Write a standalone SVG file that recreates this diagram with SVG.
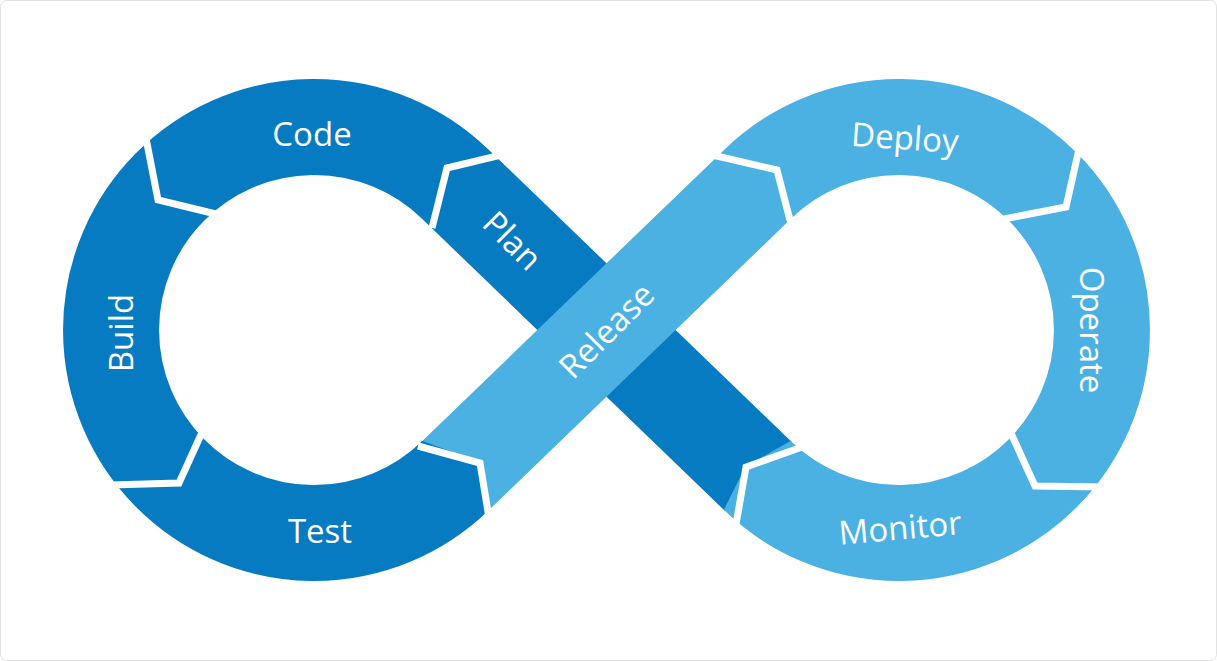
<svg xmlns="http://www.w3.org/2000/svg" width="1217" height="661" viewBox="0 0 1217 661">
<style>
.dark{fill:none;stroke:#077BC1;stroke-width:96}
.light{fill:none;stroke:#4BB1E3;stroke-width:96}
.sep{fill:none;stroke:#fff;stroke-width:7;stroke-linejoin:miter}
.lbl{font-family:"Open Sans","Liberation Sans",sans-serif;font-size:33px;fill:#fff;text-anchor:middle;dominant-baseline:central}
</style>
<rect x="0.5" y="0.5" width="1216" height="660" rx="6" fill="#fff" stroke="#e2e2e2"/>
<g id="loop-left"><path class="dark" d="M757.9 476 L455.1 184 A203 203 0 1 0 455.1 476"/></g>
<g id="loop-right"><path class="light" d="M455.1 476 L757.9 184 A203 203 0 1 1 757.9 476"/></g>
<polygon fill="#077BC1" stroke="#077BC1" stroke-width="1.5" points="421.7,441.5 480,463 488.5,510.5"/>
<polygon fill="#4BB1E3" stroke="#4BB1E3" stroke-width="1.5" points="791.3,441.5 746,467 724.5,510.5"/>
<g id="connectors">
<polyline class="sep" points="144,128 158,200 220,215"/>
<polyline class="sep" points="510,153 447,168 432,228"/>
<polyline class="sep" points="204,428 179,483 110,485"/>
<polyline class="sep" points="418,446 480,463 490,524"/>
<polyline class="sep" points="708,154 777,170 791,224"/>
<polyline class="sep" points="1081,140 1066,207 1004,219"/>
<polyline class="sep" points="1010,431 1035,486 1104,487"/>
<polyline class="sep" points="805,446 746,467 735,530"/>
</g>
<g id="code"><text class="lbl" x="312" y="133">Code</text></g>
<g id="plan"><text class="lbl" transform="translate(513,240) rotate(45)">Plan</text></g>
<g id="build"><text class="lbl" transform="translate(120,333) rotate(-90)">Build</text></g>
<g id="test"><text class="lbl" x="320" y="530">Test</text></g>
<g id="release"><text class="lbl" transform="translate(606,330) rotate(-45)">Release</text></g>
<g id="deploy"><text class="lbl" transform="translate(905,137) rotate(4)">Deploy</text></g>
<g id="operate"><text class="lbl" transform="translate(1092,330) rotate(90)">Operate</text></g>
<g id="monitor"><text class="lbl" transform="translate(900,527) rotate(-5)">Monitor</text></g>
</svg>
